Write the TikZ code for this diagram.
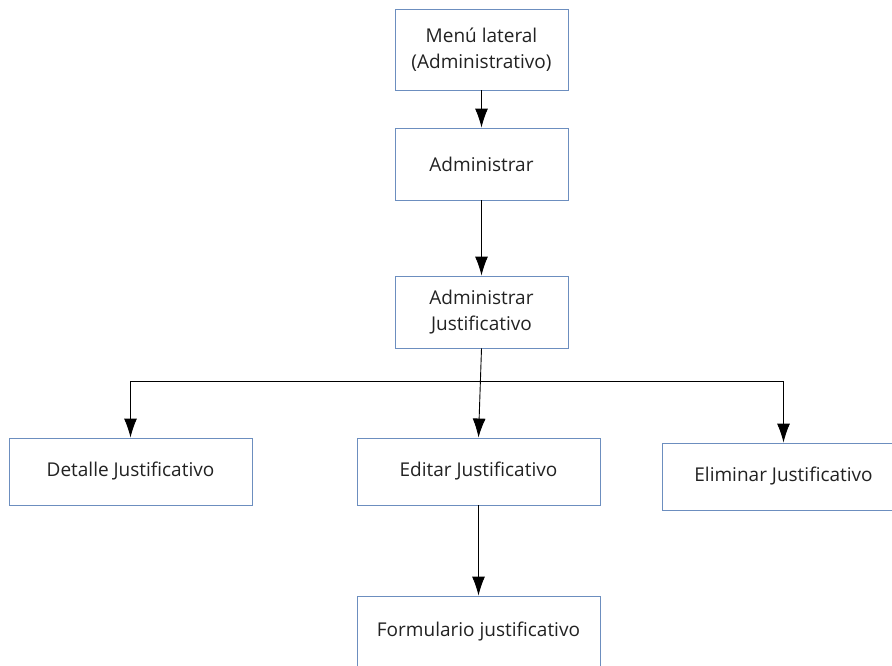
\documentclass[tikz,border=0pt]{standalone}
\usepackage{fontspec}
\setmainfont{Open Sans}
\usetikzlibrary{arrows.meta}
\definecolor{borde}{RGB}{108,142,191}
\definecolor{texto}{RGB}{34,34,34}
\tikzset{
  caja/.style={draw=borde, line width=0.9pt, fill=white, text=texto,
    minimum width=173pt, minimum height=72pt, align=center,
    font=\fontsize{19}{26}\selectfont},
  cajaancha/.style={caja, minimum width=243pt, minimum height=67pt},
  flecha/.style={-{Latex[length=19pt,width=13pt]}, line width=0.9pt}
}
\begin{document}
\begin{tikzpicture}[x=1pt,y=-1pt]
  \useasboundingbox (0,0) rectangle (892,665); % margen de la figura
  \clip (0,0) rectangle (892,665);
  \node[caja, minimum height=81pt] (menu) at (481.5,49.5) {Menú lateral\\(Administrativo)}; % menu lateral
  \node[caja] (admin) at (481.5,164) {Administrar};
  \node[caja] (adjust) at (481.5,312) {Administrar\\Justificativo};
  \node[cajaancha] (detalle) at (130.5,471.5) {Detalle Justificativo}; % hijos
  \node[cajaancha] (editar) at (478.5,471.5) {Editar Justificativo};
  \node[cajaancha] (eliminar) at (783.5,476.5) {Eliminar Justificativo};
  \node[cajaancha, minimum height=72pt] (form) at (478.5,632) {Formulario justificativo};
  \coordinate (barra) at (481.5,381); % linea horizontal
  \draw[flecha] (menu) -- (admin);
  \draw[flecha] (admin) -- (adjust);
  \draw[flecha] (adjust.south) -- (editar.north);
  \draw[line width=0.9pt] (barra -| detalle.north) -- (barra -| eliminar.north);
  \draw[flecha] (barra -| detalle.north) -- (detalle.north);
  \draw[flecha] (barra -| eliminar.north) -- (eliminar.north);
  \draw[flecha] (editar) -- (form);
\end{tikzpicture}
\end{document}
